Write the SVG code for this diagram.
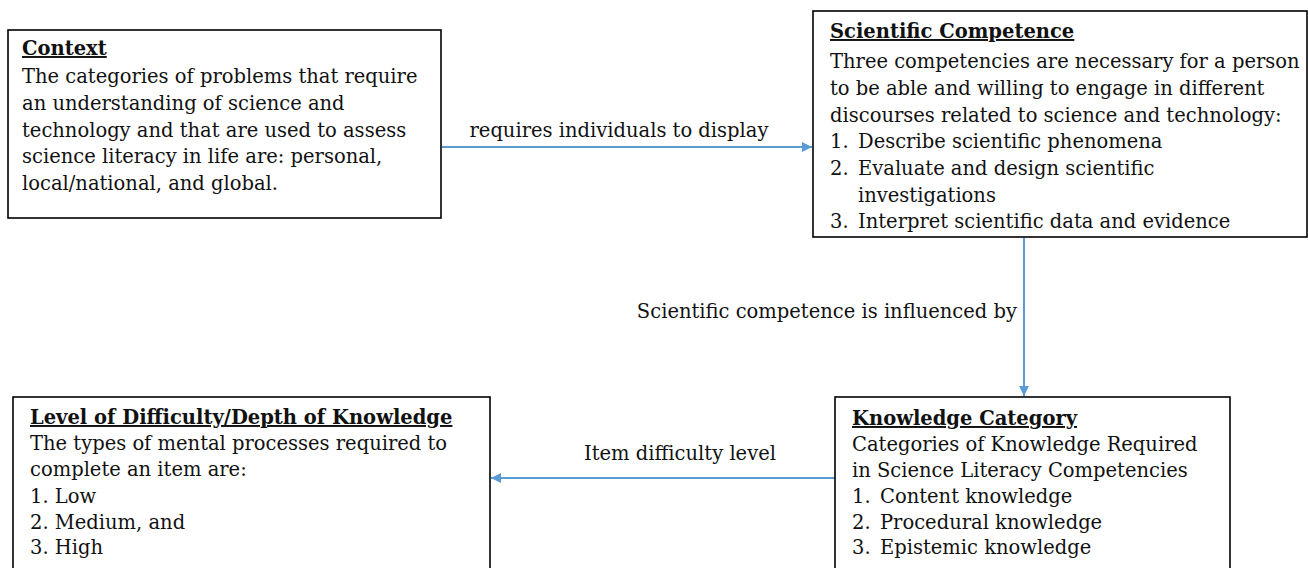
<svg xmlns="http://www.w3.org/2000/svg" width="1308" height="568" viewBox="0 0 1308 568">
<defs>
<marker id="arr" viewBox="0 0 10 10" refX="10" refY="5" markerWidth="6" markerHeight="5" markerUnits="strokeWidth" orient="auto">
<path d="M0,0 L10,5 L0,10 z" fill="#5B9BD5"/>
</marker>
<style>
.box{fill:#fff;stroke:#000;stroke-width:1.6}
text{font-family:"DejaVu Serif","Liberation Serif",serif;font-size:19.5px;fill:#111}
.t{font-weight:bold;text-decoration:underline}
.c{stroke:#5B9BD5;stroke-width:2;fill:none;marker-end:url(#arr)}
</style>
</defs>
<rect width="1308" height="568" fill="#fff"/>
<g id="connectors">
<line class="c" x1="442" y1="147" x2="812" y2="147"/>
<line class="c" x1="1024" y1="238" x2="1024" y2="396"/>
<line class="c" x1="835" y1="478" x2="491" y2="478"/>
<text x="619" y="137" text-anchor="middle">requires individuals to display</text>
<text x="1017" y="318" text-anchor="end">Scientific competence is influenced by</text>
<text x="680" y="460" text-anchor="middle">Item difficulty level</text>
</g>
<g id="context">
<rect class="box" x="8" y="30" width="433" height="188"/>
<text class="t" x="22" y="55">Context</text>
<text x="22" y="83">The categories of problems that require</text>
<text x="22" y="110">an understanding of science and</text>
<text x="22" y="137">technology and that are used to assess</text>
<text x="22" y="163">science literacy in life are: personal,</text>
<text x="22" y="190">local/national, and global.</text>
</g>
<g id="scientific-competence">
<rect class="box" x="813" y="11" width="494" height="226"/>
<text class="t" x="830" y="38">Scientific Competence</text>
<text x="830" y="68">Three competencies are necessary for a person</text>
<text x="830" y="95">to be able and willing to engage in different</text>
<text x="830" y="122">discourses related to science and technology:</text>
<text x="830" y="148">1.</text><text x="858" y="148">Describe scientific phenomena</text>
<text x="830" y="175">2.</text><text x="858" y="175">Evaluate and design scientific</text>
<text x="858" y="202">investigations</text>
<text x="830" y="228">3.</text><text x="858" y="228">Interpret scientific data and evidence</text>
</g>
<g id="level-of-difficulty">
<rect class="box" x="13" y="397" width="477" height="190"/>
<text class="t" x="30" y="424">Level of Difficulty/Depth of Knowledge</text>
<text x="30" y="450">The types of mental processes required to</text>
<text x="30" y="476">complete an item are:</text>
<text x="30" y="503">1. Low</text>
<text x="30" y="529">2. Medium, and</text>
<text x="30" y="554">3. High</text>
</g>
<g id="knowledge-category">
<rect class="box" x="835" y="397" width="395" height="190"/>
<text class="t" x="852" y="425">Knowledge Category</text>
<text x="852" y="451">Categories of Knowledge Required</text>
<text x="852" y="477">in Science Literacy Competencies</text>
<text x="852" y="503">1.</text><text x="880" y="503">Content knowledge</text>
<text x="852" y="529">2.</text><text x="880" y="529">Procedural knowledge</text>
<text x="852" y="554">3.</text><text x="880" y="554">Epistemic knowledge</text>
</g>
</svg>
